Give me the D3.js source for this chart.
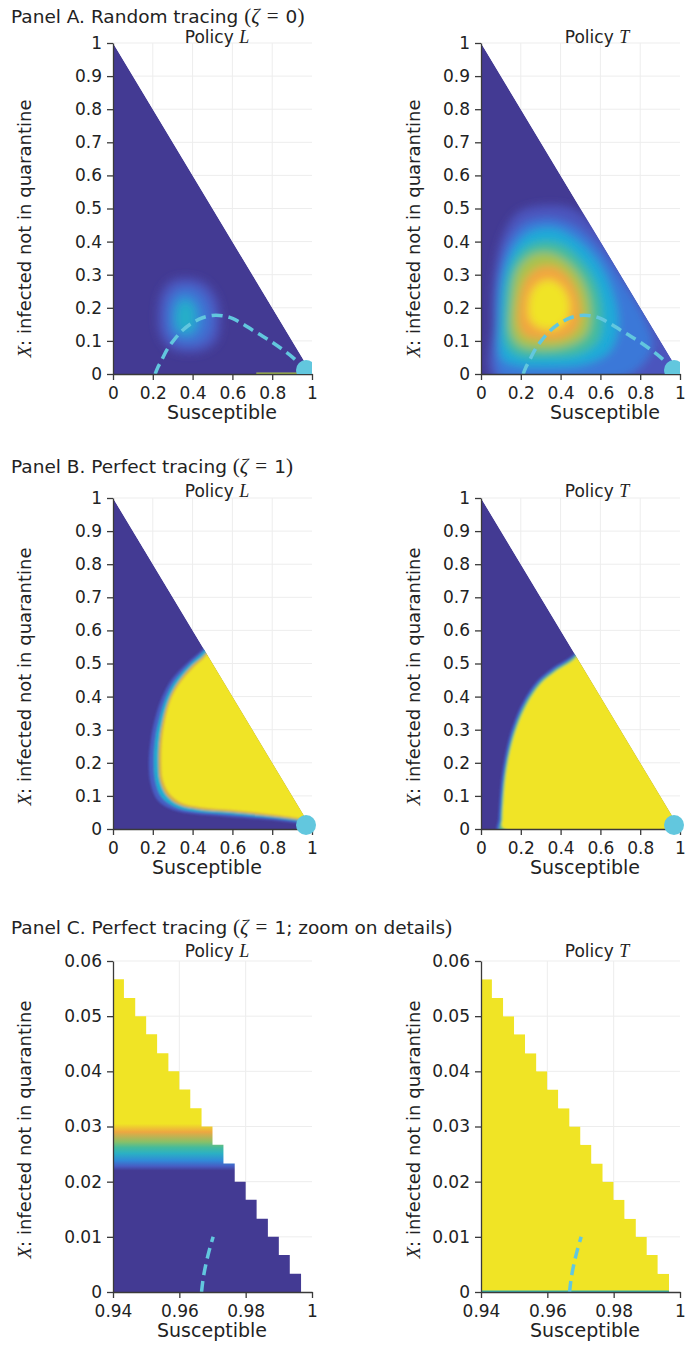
<!DOCTYPE html>
<html>
<head>
<meta charset="utf-8">
<script src="https://cdn.jsdelivr.net/npm/d3@7"></script>
<style>
  body { margin: 0; background: #fff; }
  text { font-family: "DejaVu Sans", sans-serif; fill: #222; }
</style>
</head>
<body>
<div id="chart"></div>
<script>
// ---------- data ----------

// axis ticks
const xTicksFull = [0, 0.2, 0.4, 0.6, 0.8, 1];
const yTicksFull = [0, 0.1, 0.2, 0.3, 0.4, 0.5, 0.6, 0.7, 0.8, 0.9, 1];
const xTicksZoom = [0.94, 0.96, 0.98, 1];
const yTicksZoom = [0, 0.01, 0.02, 0.03, 0.04, 0.05, 0.06];

// dashed trajectory (S, X), panel A
const pathS = [0.212, 0.225, 0.24, 0.27, 0.30, 0.35, 0.40, 0.45, 0.50, 0.55, 0.60, 0.65, 0.70, 0.75, 0.80, 0.85, 0.90, 0.94, 0.97];
const pathX = [0.0, 0.02, 0.036, 0.072, 0.098, 0.132, 0.155, 0.170, 0.177, 0.176, 0.168, 0.152, 0.133, 0.115, 0.096, 0.075, 0.052, 0.03, 0.012];
// dashed trajectory, panel C zoom
const pathZoomS = [0.9667, 0.9672, 0.9680, 0.9690, 0.9702];
const pathZoomX = [0.0, 0.0025, 0.005, 0.0075, 0.010];

// starting point marker
const startS = 0.97;
const startX = 0.012;

// density levels (value + boundary polygon in S, X)
const aLeftLevels = [0.12, 0.22, 0.32, 0.44];
const aLeftShapes = [
  [[0.225,0.17],[0.24,0.24],[0.29,0.28],[0.37,0.29],[0.46,0.275],[0.52,0.23],[0.54,0.16],[0.52,0.1],[0.45,0.07],[0.36,0.065],[0.28,0.08],[0.235,0.12]],
  [[0.265,0.17],[0.275,0.225],[0.32,0.258],[0.38,0.265],[0.45,0.245],[0.495,0.19],[0.495,0.135],[0.45,0.097],[0.37,0.087],[0.3,0.1],[0.27,0.135]],
  [[0.295,0.17],[0.305,0.212],[0.345,0.238],[0.395,0.232],[0.435,0.2],[0.44,0.15],[0.405,0.117],[0.35,0.112],[0.305,0.132]],
  [[0.32,0.17],[0.33,0.203],[0.362,0.22],[0.398,0.205],[0.41,0.165],[0.392,0.132],[0.352,0.127],[0.326,0.143]]
];
const aLeftBottom = [[0.72, 0.95, 0.7]];

const aRightLevels = [0.12, 0.25, 0.4, 0.55, 0.7, 0.86, 1.0];
const aRightShapes = [
  [[0.065,-0.02],[0.055,0.15],[0.065,0.3],[0.11,0.42],[0.19,0.49],[0.32,0.51],[0.46,0.5],[0.62,0.42],[0.8,0.26],[1.02,0.05],[1.02,-0.02]],
  [[0.085,0.0],[0.075,0.16],[0.09,0.3],[0.14,0.4],[0.22,0.455],[0.34,0.47],[0.46,0.45],[0.58,0.39],[0.71,0.28],[0.82,0.17],[0.86,0.08],[0.75,0.0],[0.4,-0.02],[0.15,-0.02]],
  [[0.105,0.045],[0.095,0.18],[0.115,0.3],[0.17,0.385],[0.25,0.43],[0.36,0.44],[0.47,0.41],[0.58,0.345],[0.66,0.25],[0.69,0.15],[0.65,0.07],[0.53,0.03],[0.35,0.02],[0.18,0.025]],
  [[0.13,0.085],[0.12,0.21],[0.145,0.31],[0.21,0.375],[0.31,0.4],[0.41,0.39],[0.5,0.345],[0.58,0.27],[0.61,0.18],[0.59,0.1],[0.49,0.06],[0.34,0.05],[0.19,0.055]],
  [[0.155,0.12],[0.155,0.23],[0.185,0.315],[0.26,0.36],[0.35,0.365],[0.44,0.335],[0.52,0.27],[0.55,0.19],[0.53,0.12],[0.44,0.085],[0.31,0.075],[0.2,0.085]],
  [[0.19,0.145],[0.195,0.235],[0.235,0.295],[0.305,0.325],[0.385,0.32],[0.46,0.275],[0.5,0.2],[0.48,0.135],[0.4,0.105],[0.29,0.105],[0.22,0.115]],
  [[0.245,0.165],[0.245,0.235],[0.28,0.27],[0.34,0.285],[0.405,0.265],[0.445,0.215],[0.43,0.16],[0.37,0.135],[0.29,0.14]]
];

const bLeftLevels = [0.15, 0.42, 0.8, 1.0];
const bLeftShapes = [
  [[0.455,0.545],[0.37,0.5],[0.295,0.452],[0.248,0.4],[0.212,0.335],[0.19,0.27],[0.18,0.2],[0.19,0.135],[0.225,0.086],[0.3,0.058],[0.41,0.045],[0.56,0.038],[0.73,0.03],[0.86,0.023],[0.94,0.016],[1.1,-0.01],[1.1,0.3],[0.6,0.65]],
  [[0.46,0.54],[0.38,0.495],[0.31,0.447],[0.265,0.395],[0.232,0.33],[0.212,0.27],[0.205,0.2],[0.214,0.14],[0.245,0.095],[0.315,0.066],[0.42,0.052],[0.57,0.045],[0.74,0.036],[0.87,0.028],[0.95,0.02],[1.1,-0.01],[1.1,0.3],[0.6,0.65]],
  [[0.465,0.53],[0.39,0.49],[0.322,0.44],[0.28,0.392],[0.25,0.33],[0.233,0.27],[0.228,0.2],[0.236,0.145],[0.268,0.102],[0.33,0.073],[0.43,0.059],[0.58,0.051],[0.75,0.041],[0.88,0.032],[0.96,0.024],[1.1,-0.01],[1.1,0.3],[0.6,0.65]],
  [[0.47,0.525],[0.40,0.485],[0.33,0.435],[0.29,0.39],[0.262,0.33],[0.247,0.27],[0.243,0.2],[0.25,0.15],[0.28,0.11],[0.34,0.08],[0.44,0.066],[0.59,0.058],[0.76,0.047],[0.89,0.037],[0.97,0.028],[1.1,0.0],[1.1,0.3],[0.6,0.65]]
];

const bRightLevels = [0.2, 0.6, 1.0];
const bRightShapes = [
  [[0.47,0.53],[0.362,0.487],[0.282,0.446],[0.214,0.386],[0.163,0.316],[0.129,0.244],[0.105,0.16],[0.093,0.08],[0.088,0.03],[0.085,-0.01],[1.1,-0.01],[1.1,0.3],[0.6,0.65]],
  [[0.475,0.525],[0.372,0.482],[0.292,0.442],[0.224,0.382],[0.174,0.313],[0.14,0.242],[0.116,0.16],[0.104,0.08],[0.1,0.03],[0.1,-0.01],[1.1,-0.01],[1.1,0.3],[0.6,0.65]],
  [[0.48,0.52],[0.38,0.478],[0.3,0.438],[0.232,0.378],[0.182,0.31],[0.148,0.24],[0.124,0.16],[0.112,0.08],[0.108,0.03],[0.11,0.004],[1.1,0.004],[1.1,0.3],[0.6,0.65]]
];

// panel C: grid columns (left edge S, top X) of the computed region
const stairS = [0.94, 0.9433, 0.9467, 0.95, 0.9533, 0.9567, 0.96, 0.9633, 0.9667, 0.97, 0.9733, 0.9767, 0.98, 0.9833, 0.9867, 0.99, 0.9933];
const stairTop = [0.0567, 0.0533, 0.05, 0.0467, 0.0433, 0.04, 0.0367, 0.0333, 0.03, 0.0267, 0.0233, 0.02, 0.0167, 0.0133, 0.01, 0.0067, 0.0033];
const stairEnd = 0.9967;

// panel C left: value by X row
const cLeftRowX = [0, 0.022, 0.0228, 0.0238, 0.0251, 0.0262, 0.0272, 0.029, 0.0305, 0.06];
const cLeftRowV = [0, 0, 0.15, 0.3, 0.45, 0.55, 0.65, 0.85, 1, 1];
const cRightBottom = [[0.94, 0.9967, 0.5]];

// ---------- layout ----------
const W = 686, H = 1345;
const colX = [[113, 312], [481, 680]];
const rowY = [[43, 374], [498, 829], [961, 1292]];
const rowTitleY = [23, 473, 934];
const rowPolicyY = [43, 497, 957];
const yLabelX = [31, 420];
const yLabelShift = [20, 13, 3];
const policyCx = [217, 597];

const color = d3.scaleLinear()
  .domain([0, 0.12, 0.25, 0.4, 0.55, 0.7, 0.86, 1])
  .range(["#433a93", "#4b55bd", "#3b78d8", "#1eaad8", "#45bb9c", "#a9c24e", "#f2a540", "#f0e425"])
  .clamp(true);

const cyan = "#62c7de";

const svg = d3.select("#chart").append("svg")
  .attr("width", W).attr("height", H)
  .style("background", "#fff");
const defs = svg.append("defs");

[1.3, 4, 5].forEach(b => {
  defs.append("filter").attr("id", "blur" + String(b).replace(".", "_"))
    .attr("filterUnits", "userSpaceOnUse")
    .attr("x", 0).attr("y", 0).attr("width", W).attr("height", H)
    .append("feGaussianBlur").attr("stdDeviation", b);
});

const titles = [
  [["Panel A. Random tracing ", "sans"], ["(", "serif"], ["ζ", "it"], ["\u2004=\u2004", "serif"], ["0", "sans"], [")", "serif"]],
  [["Panel B. Perfect tracing ", "sans"], ["(", "serif"], ["ζ", "it"], ["\u2004=\u2004", "serif"], ["1", "sans"], [")", "serif"]],
  [["Panel C. Perfect tracing ", "sans"], ["(", "serif"], ["ζ", "it"], ["\u2004=\u2004", "serif"], ["1; zoom on details", "sans"], [")", "serif"]]
];

function addRich(sel, parts, serifSize) {
  parts.forEach(([t, f]) => {
    const ts = sel.append("tspan").text(t);
    if (f === "serif" || f === "it") {
      ts.style("font-family", "'Liberation Serif', serif");
      if (serifSize) ts.style("font-size", serifSize);
    }
    if (f === "it") ts.style("font-style", "italic");
  });
}

titles.forEach((parts, i) => {
  const t = svg.append("text").attr("x", 11).attr("y", rowTitleY[i]).style("font-size", "18.5px");
  addRich(t, parts, "21px");
});

const panels = [
  {id: "AL", row: 0, col: 0, policy: "L", zoom: false, levels: aLeftLevels, shapes: aLeftShapes, blur: 5, bottom: aLeftBottom, path: true, dot: true, dotClip: true, labelCx: 222},
  {id: "AR", row: 0, col: 1, policy: "T", zoom: false, levels: aRightLevels, shapes: aRightShapes, blur: 4, bottom: [], path: true, dot: true, dotClip: true, labelCx: 605},
  {id: "BL", row: 1, col: 0, policy: "L", zoom: false, levels: bLeftLevels, shapes: bLeftShapes, blur: 1.3, bottom: [], path: false, dot: true, dotClip: false, labelCx: 207},
  {id: "BR", row: 1, col: 1, policy: "T", zoom: false, levels: bRightLevels, shapes: bRightShapes, blur: 1.3, bottom: [], path: false, dot: true, dotClip: false, labelCx: 585},
  {id: "CL", row: 2, col: 0, policy: "L", zoom: true, rowX: cLeftRowX, rowV: cLeftRowV, bottom: [], labelCx: 212},
  {id: "CR", row: 2, col: 1, policy: "T", zoom: true, rowX: null, rowV: null, bottom: cRightBottom, labelCx: 585}
];

panels.forEach(drawPanel);

function drawPanel(p) {
  const xDom = p.zoom ? [0.94, 1] : [0, 1];
  const yDom = p.zoom ? [0, 0.06] : [0, 1];
  const xT = p.zoom ? xTicksZoom : xTicksFull;
  const yT = p.zoom ? yTicksZoom : yTicksFull;

  const x = d3.scaleLinear().domain(xDom).range(colX[p.col]);
  const y = d3.scaleLinear().domain(yDom).range([rowY[p.row][1], rowY[p.row][0]]);
  const g = svg.append("g");

  // light grid
  const grid = g.append("g").attr("stroke", "#ededed").attr("stroke-width", 1);
  grid.selectAll("line.v").data(xT.filter(d => d > xDom[0] && d < xDom[1])).enter().append("line")
    .attr("x1", d => x(d)).attr("x2", d => x(d))
    .attr("y1", y(yDom[0])).attr("y2", y(yDom[1]));
  grid.selectAll("line.h").data(yT.filter(d => d > yDom[0])).enter().append("line")
    .attr("x1", x(xDom[0])).attr("x2", x(xDom[1]))
    .attr("y1", d => y(d)).attr("y2", d => y(d));

  // clip region: triangle S + X <= 1, or the stair of grid cells
  let region;
  if (!p.zoom) {
    region = [[0, 0], [0, 1], [1, 0]];
  } else {
    region = [[stairS[0], 0]];
    stairS.forEach((s, i) => {
      const right = i < stairS.length - 1 ? stairS[i + 1] : stairEnd;
      region.push([s, stairTop[i]]);
      region.push([right, stairTop[i]]);
    });
    region.push([stairEnd, 0]);
  }
  const regionPts = region.map(d => [x(d[0]), y(d[1])].join(",")).join(" ");
  defs.append("clipPath").attr("id", "clip" + p.id)
    .append("polygon").attr("points", regionPts);
  defs.append("clipPath").attr("id", "plot" + p.id)
    .append("rect").attr("x", x(xDom[0])).attr("y", y(yDom[1]))
    .attr("width", x(xDom[1]) - x(xDom[0])).attr("height", y(yDom[0]) - y(yDom[1]));

  const heat = g.append("g").attr("clip-path", `url(#clip${p.id})`);

  if (!p.zoom) {
    heat.append("polygon").attr("points", regionPts).attr("fill", color(0));
    const line = d3.line().x(d => x(d[0])).y(d => y(d[1])).curve(d3.curveCatmullRomClosed.alpha(0.5));
    heat.append("g").attr("filter", `url(#blur${String(p.blur).replace(".", "_")})`)
      .selectAll("path").data(p.levels.map((v, i) => ({v, pts: p.shapes[i]}))).enter()
      .append("path").attr("d", d => line(d.pts)).attr("fill", d => color(d.v));
  } else if (p.rowX) {
    const gid = "grad" + p.id;
    const grad = defs.append("linearGradient").attr("id", gid)
      .attr("gradientUnits", "userSpaceOnUse")
      .attr("x1", 0).attr("x2", 0).attr("y1", y(yDom[0])).attr("y2", y(yDom[1]));
    grad.selectAll("stop").data(p.rowX.map((v, i) => ({x: v, v: p.rowV[i]}))).enter().append("stop")
      .attr("offset", d => (d.x - yDom[0]) / (yDom[1] - yDom[0]))
      .attr("stop-color", d => color(d.v));
    heat.append("rect").attr("x", x(xDom[0])).attr("y", y(yDom[1]))
      .attr("width", x(xDom[1]) - x(xDom[0])).attr("height", y(yDom[0]) - y(yDom[1]))
      .attr("fill", `url(#${gid})`);
  } else {
    heat.append("polygon").attr("points", regionPts).attr("fill", color(1));
  }

  // thin bottom row of the grid (X = 0)
  heat.selectAll("rect.bot").data(p.bottom).enter().append("rect")
    .attr("x", d => x(d[0])).attr("width", d => x(d[1]) - x(d[0]))
    .attr("y", y(yDom[0]) - 1.5).attr("height", 1.5)
    .attr("fill", d => color(d[2]));

  // dashed trajectory
  const dashed = d3.line().x(d => x(d[0])).y(d => y(d[1])).curve(d3.curveCatmullRom);
  let pts = null;
  if (p.path) pts = pathS.map((s, i) => [s, pathX[i]]);
  if (p.zoom) pts = pathZoomS.map((s, i) => [s, pathZoomX[i]]);
  if (pts) {
    g.append("path").attr("d", dashed(pts))
      .attr("fill", "none").attr("stroke", cyan).attr("stroke-width", 3.5)
      .attr("stroke-dasharray", "11,6");
  }

  // axes
  const fmt = d => String(d);
  const ax = g.append("g").attr("transform", `translate(${x(xDom[0])},0)`)
    .call(d3.axisLeft(y).tickValues(yT).tickSize(6).tickSizeOuter(0).tickPadding(5).tickFormat(fmt));
  const bx = g.append("g").attr("transform", `translate(0,${y(yDom[0])})`)
    .call(d3.axisBottom(x).tickValues(xT).tickSize(6).tickSizeOuter(0).tickPadding(7).tickFormat(fmt));
  [ax, bx].forEach(a => {
    a.selectAll("path, line").attr("stroke", "#3a3a3a").attr("stroke-width", 1.3);
    a.selectAll("text").style("font-size", "17px").style("font-family", "'DejaVu Sans', sans-serif").attr("fill", "#222");
  });

  // starting point
  if (p.dot) {
    const dg = g.append("g");
    if (p.dotClip) dg.attr("clip-path", `url(#plot${p.id})`);
    dg.append("circle").attr("cx", x(startS)).attr("cy", y(startX)).attr("r", 10).attr("fill", cyan);
  }

  // labels
  const pol = g.append("text").attr("x", policyCx[p.col]).attr("y", rowPolicyY[p.row])
    .attr("text-anchor", "middle").style("font-size", "17px");
  addRich(pol, [["Policy ", "sans"], [p.policy, "it"]], "18px");

  g.append("text").attr("x", p.labelCx).attr("y", y(yDom[0]) + 45)
    .attr("text-anchor", "middle").style("font-size", "19px").text("Susceptible");

  const cy = (rowY[p.row][0] + rowY[p.row][1]) / 2 + yLabelShift[p.row];
  const yl = g.append("text")
    .attr("transform", `translate(${yLabelX[p.col]},${cy}) rotate(-90)`)
    .attr("text-anchor", "middle").style("font-size", "18px");
  addRich(yl, [["X", "it"], [": infected not in quarantine", "sans"]], "19px");
}
</script>
</body>
</html>
